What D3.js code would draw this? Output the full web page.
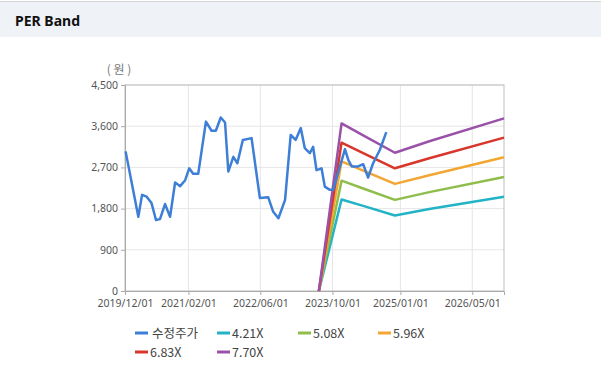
<!DOCTYPE html>
<html>
<head>
<meta charset="utf-8">
<script src="https://cdn.jsdelivr.net/npm/d3@7"></script>
<style>
  body { margin: 0; background: #fff; font-family: "Noto Sans", "Noto Sans CJK KR", sans-serif; }
  .tick text { fill: #555; font-size: 10.5px; }
  .legend text { fill: #444; font-size: 12.5px; font-family: "Noto Sans CJK KR", "Noto Sans", sans-serif; }
</style>
</head>
<body>
<script>
var svgWidth = 601;
var svgHeight = 385;

var margin = { top: 85, right: 97, bottom: 94, left: 125 };
var chartWidth = svgWidth - margin.left - margin.right;
var chartHeight = svgHeight - margin.top - margin.bottom;

var parseDate = d3.timeParse("%Y-%m-%d");

// 수정주가 (adjusted price)
var priceDates = ["2019-12-05", "2020-02-29", "2020-03-25", "2020-04-25", "2020-05-28", "2020-06-27",
  "2020-07-24", "2020-08-27", "2020-09-30", "2020-11-03", "2020-12-07", "2021-01-10", "2021-02-06",
  "2021-03-05", "2021-04-08", "2021-05-30", "2021-07-07", "2021-08-05", "2021-09-07", "2021-10-06",
  "2021-10-28", "2021-12-01", "2021-12-28", "2022-02-03", "2022-04-03", "2022-05-29", "2022-07-24",
  "2022-08-27", "2022-10-01", "2022-11-15", "2022-12-23", "2023-01-25", "2023-03-01", "2023-03-28",
  "2023-05-01", "2023-05-23", "2023-06-15", "2023-07-19", "2023-08-10", "2023-09-13", "2023-10-06",
  "2023-12-24", "2024-01-16", "2024-02-08", "2024-03-22", "2024-04-25", "2024-05-28", "2024-07-01",
  "2024-08-15", "2024-09-28"];
var priceValues = [3050, 1620, 2100, 2060, 1920, 1550,
  1570, 1900, 1620, 2370, 2290, 2420, 2680,
  2560, 2560, 3700, 3500, 3500, 3790, 3680,
  2610, 2930, 2790, 3300, 3340, 2030, 2050,
  1730, 1590, 1990, 3410, 3300, 3560, 3120,
  3010, 3150, 2640, 2680, 2280, 2210, 2210,
  3100, 2860, 2720, 2720, 2770, 2480, 2790,
  3080, 3470];

// PER band lines
var bandDates = ["2023-07-01", "2023-12-01", "2024-04-25", "2024-11-25", "2025-07-15", "2026-12-01"];
var band421 = [0, 2000, 1860, 1650, 1790, 2060];
var band508 = [0, 2410, 2240, 1990, 2160, 2490];
var band596 = [0, 2830, 2630, 2340, 2530, 2920];
var band683 = [0, 3240, 3010, 2680, 2900, 3350];
var band770 = [0, 3660, 3400, 3020, 3270, 3770];

var seriesNames = ["수정주가", "4.21X", "5.08X", "5.96X", "6.83X", "7.70X"];
var seriesColors = ["#3d7fd6", "#22b4c6", "#8fbd4c", "#f4a632", "#d8352b", "#9a52a8"];

var xTickLabels = ["2019/12/01", "2021/02/01", "2022/06/01", "2023/10/01", "2025/01/01", "2026/05/01"];
var yTicks = [0, 900, 1800, 2700, 3600, 4500];

var series = [
  { dates: priceDates, values: priceValues },
  { dates: bandDates, values: band421 },
  { dates: bandDates, values: band508 },
  { dates: bandDates, values: band596 },
  { dates: bandDates, values: band683 },
  { dates: bandDates, values: band770 }
].map(function(s, i) {
  return {
    name: seriesNames[i],
    color: seriesColors[i],
    points: s.dates.map(function(d, j) { return { date: parseDate(d), value: s.values[j] }; })
  };
});

var svg = d3.select("body")
  .append("svg")
  .attr("width", svgWidth)
  .attr("height", svgHeight);

// header
svg.append("rect").attr("x", 0).attr("y", 1).attr("width", svgWidth).attr("height", 1).attr("fill", "#d4d4d4");
svg.append("rect").attr("x", 0).attr("y", 2).attr("width", svgWidth).attr("height", 35).attr("fill", "#eff2f7");
svg.append("text")
  .attr("x", 15).attr("y", 26)
  .attr("font-size", "14px").attr("font-weight", "bold")
  .attr("font-family", "'Noto Sans', sans-serif")
  .attr("fill", "#111")
  .text("PER Band");

var chartGroup = svg.append("g")
  .attr("transform", `translate(${margin.left}, ${margin.top})`);

var xScale = d3.scaleTime()
  .domain([parseDate("2019-12-01"), parseDate("2026-12-01")])
  .range([0, chartWidth]);

var yScale = d3.scaleLinear()
  .domain([0, 4500])
  .range([chartHeight, 0]);

var xTickDates = xTickLabels.map(function(t) { return d3.timeParse("%Y/%m/%d")(t); });

// grid
chartGroup.append("g")
  .selectAll("line.h")
  .data(yTicks.slice(1))
  .enter().append("line")
  .attr("x1", 0).attr("x2", chartWidth)
  .attr("y1", d => yScale(d)).attr("y2", d => yScale(d))
  .attr("stroke", "#e6e6e6");

chartGroup.append("g")
  .selectAll("line.v")
  .data(xTickDates.slice(1))
  .enter().append("line")
  .attr("x1", d => xScale(d)).attr("x2", d => xScale(d))
  .attr("y1", 0).attr("y2", chartHeight)
  .attr("stroke", "#e6e6e6");

// frame
chartGroup.append("rect")
  .attr("x", 0).attr("y", 0)
  .attr("width", chartWidth).attr("height", chartHeight)
  .attr("fill", "none").attr("stroke", "#bdbdbd");

var leftAxis = d3.axisLeft(yScale).tickValues(yTicks).tickSize(4).tickPadding(3).tickFormat(d3.format(","));
var bottomAxis = d3.axisBottom(xScale).tickValues(xTickDates).tickSize(4).tickPadding(5)
  .tickFormat(function(d, i) { return xTickLabels[i]; });

var yAxisG = chartGroup.append("g").call(leftAxis);
var xAxisG = chartGroup.append("g").attr("transform", `translate(0, ${chartHeight})`).call(bottomAxis);
[yAxisG, xAxisG].forEach(function(g) {
  g.select(".domain").attr("stroke", "#aaa");
  g.selectAll(".tick line").attr("stroke", "#aaa");
  g.selectAll(".tick text").attr("font-family", "'Noto Sans', sans-serif");
});

// unit
svg.append("text")
  .attr("x", 119).attr("y", 74)
  .attr("text-anchor", "middle")
  .attr("font-size", "12px")
  .attr("font-family", "'Noto Sans CJK KR', sans-serif")
  .attr("fill", "#777")
  .text("( 원 )");

// lines
var line = d3.line()
  .x(d => xScale(d.date))
  .y(d => yScale(d.value));

var drawOrder = [1, 2, 3, 4, 5, 0];
drawOrder.forEach(function(i) {
  chartGroup.append("path")
    .datum(series[i].points)
    .attr("fill", "none")
    .attr("stroke", series[i].color)
    .attr("stroke-width", 2.5)
    .attr("stroke-linejoin", "round")
    .attr("d", line);
});

// legend
var legendPos = [[135, 333], [217, 333], [298, 333], [378, 333], [135, 352], [217, 352]];
var legend = svg.append("g").attr("class", "legend");
series.forEach(function(s, i) {
  var g = legend.append("g").attr("transform", `translate(${legendPos[i][0]}, ${legendPos[i][1]})`);
  g.append("line").attr("x1", 0).attr("x2", 13).attr("y1", 0).attr("y2", 0)
    .attr("stroke", s.color).attr("stroke-width", 3);
  g.append("text").attr("x", i === 0 ? 17 : 15).attr("y", 4.5).text(s.name);
});
</script>
</body>
</html>
